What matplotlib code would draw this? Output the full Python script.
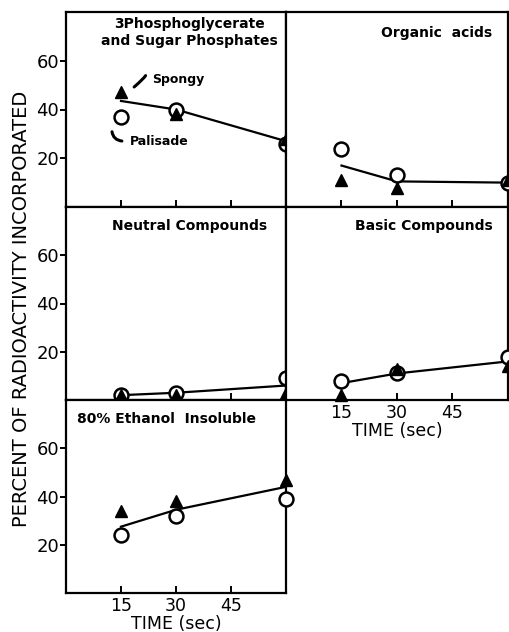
import matplotlib
matplotlib.use("Agg")
import matplotlib.pyplot as plt
from matplotlib.patches import FancyArrowPatch

times = [15, 30, 60]

pg_spongy = [47, 38, 28]
pg_palisade = [37, 40, 26]
pg_fit = [43.5, 40, 27]

oa_spongy = [11, 8, 11]
oa_palisade = [24, 13, 10]
oa_fit = [17, 10.5, 10]

nc_spongy = [2, 2, 3]
nc_palisade = [2, 3, 9]
nc_fit = [2, 3, 6]

bc_spongy = [2, 13, 14]
bc_palisade = [8, 11, 18]
bc_fit = [7, 11, 16]

ei_spongy = [34, 38, 47]
ei_palisade = [24, 32, 39]
ei_fit = [27.5, 34.5, 44]

xticks = [15, 30, 45, 60]
xtick_labels = ["15", "30", "45", ""]
yticks = [20, 40, 60]
ytick_labels = ["20", "40", "60"]

fig = plt.figure(figsize=(5.10, 6.32), dpi=100)

L0, LW = 66/510, 220/510
R0, RW = 286/510, 222/510
rows = [(1-207/632, 195/632), (1-400/632, 193/632), (1-593/632, 193/632)]

def make_ax(x0, w, row):
    b, h = rows[row]
    ax = fig.add_axes([x0, b, w, h])
    ax.set_xlim(0, 60)
    ax.set_ylim(0, 80)
    for s in ax.spines.values():
        s.set_linewidth(1.6)
    ax.set_xticks(xticks)
    ax.set_yticks(yticks)
    return ax

def plot_panel(ax, sp, pa, fit):
    ax.plot(times, fit, color="black", lw=1.6, zorder=2)
    ax.plot(times, pa, linestyle="none", marker="o", ms=10, mfc="white", mec="black", mew=1.8, zorder=3, clip_on=False)
    ax.plot(times, sp, linestyle="none", marker="^", ms=9, color="black", zorder=4, clip_on=False)

title_kw = dict(fontsize=10, fontweight="bold", family="DejaVu Sans")

# top-left
ax1 = make_ax(L0, LW, 0)
plot_panel(ax1, pg_spongy, pg_palisade, pg_fit)
ax1.text(0.56, 0.895, "3Phosphoglycerate\nand Sugar Phosphates", transform=ax1.transAxes,
         ha="center", va="center", linespacing=1.25, **title_kw)
ax1.text(23.5, 52.5, "Spongy", ha="left", va="center", fontsize=9, fontweight="bold")
ax1.text(17.5, 27, "Palisade", ha="left", va="center", fontsize=9, fontweight="bold")
ax1.add_patch(FancyArrowPatch((21.5, 55), (18.0, 48.5), arrowstyle="-", connectionstyle="angle3,angleA=0,angleB=40", lw=2.2, color="black"))
ax1.add_patch(FancyArrowPatch((12.5, 32), (16.0, 27), arrowstyle="-", connectionstyle="angle3,angleA=-90,angleB=0", lw=2.2, color="black"))

# top-right
ax2 = make_ax(R0, RW, 0)
plot_panel(ax2, oa_spongy, oa_palisade, oa_fit)
ax2.text(0.93, 0.89, "Organic  acids", transform=ax2.transAxes, ha="right", va="center", **title_kw)

# middle-left
ax3 = make_ax(L0, LW, 1)
plot_panel(ax3, nc_spongy, nc_palisade, nc_fit)
ax3.text(0.56, 0.90, "Neutral Compounds", transform=ax3.transAxes, ha="center", va="center", **title_kw)

# middle-right
ax4 = make_ax(R0, RW, 1)
plot_panel(ax4, bc_spongy, bc_palisade, bc_fit)
ax4.text(0.93, 0.90, "Basic Compounds", transform=ax4.transAxes, ha="right", va="center", **title_kw)

# bottom-left
ax5 = make_ax(L0, LW, 2)
plot_panel(ax5, ei_spongy, ei_palisade, ei_fit)
ax5.text(0.05, 0.90, "80% Ethanol  Insoluble", transform=ax5.transAxes, ha="left", va="center", **title_kw)

tick_fs = 13
for ax in (ax1, ax3, ax5):
    ax.set_yticklabels(ytick_labels, fontsize=tick_fs)
    ax.tick_params(axis="y", direction="out", length=4, width=1.4, pad=1)
for ax in (ax2, ax4):
    ax.tick_params(axis="y", left=False, labelleft=False)
for ax in (ax1, ax2, ax3):
    ax.tick_params(axis="x", direction="in", length=5, width=1.4, labelbottom=False)
for ax in (ax4, ax5):
    ax.set_xticklabels(xtick_labels, fontsize=12.5)
    ax.tick_params(axis="x", direction="in", length=5, width=1.4, pad=3)

ax5.set_xlabel("TIME (sec)", fontsize=12.5, labelpad=0)
ax4.set_xlabel("TIME (sec)", fontsize=12.5, labelpad=0)

fig.text(22/510, 1-309/632, "PERCENT OF RADIOACTIVITY INCORPORATED", rotation=90,
         ha="center", va="center", fontsize=14)

fig.savefig("out.png", dpi=100)
